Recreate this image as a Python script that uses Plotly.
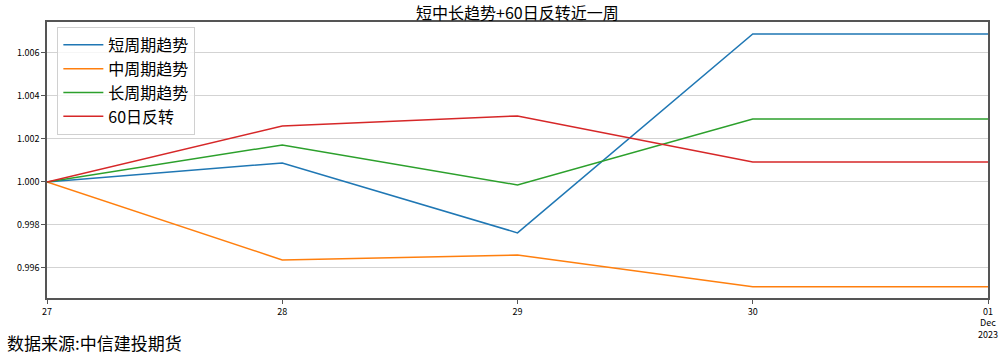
import plotly.graph_objects as go

dates = ["2023-11-27", "2023-11-28", "2023-11-29", "2023-11-30", "2023-12-01"]
short_trend = [1.0000, 1.00088, 0.99763, 1.00688, 1.00688]
mid_trend = [1.0000, 0.99637, 0.99660, 0.99512, 0.99512]
long_trend = [1.0000, 1.00172, 0.99986, 1.00293, 1.00293]
reversal_60 = [1.0000, 1.00260, 1.00307, 1.00093, 1.00093]

series_names = ["短周期趋势", "中周期趋势", "长周期趋势", "60日反转"]
series_vals = [short_trend, mid_trend, long_trend, reversal_60]
colors = ["#1f77b4", "#ff7f0e", "#2ca02c", "#d62728"]

x_tick_text = ["27", "28", "29", "30", "01<br>Dec<br>2023"]
y_ticks = [0.996, 0.998, 1.000, 1.002, 1.004, 1.006]
y_tick_text = ["0.996", "0.998", "1.000", "1.002", "1.004", "1.006"]

font_family = "Noto Sans CJK SC, sans-serif"

fig = go.Figure()
for name, vals, c in zip(series_names, series_vals, colors):
    fig.add_trace(go.Scatter(x=dates, y=vals, mode="lines", name=name,
                             line=dict(color=c, width=1.5)))

fig.update_layout(
    width=1003, height=354,
    margin=dict(l=47, r=15, t=22, b=56, autoexpand=False),
    paper_bgcolor="white", plot_bgcolor="white",
    font=dict(family=font_family, color="black"),
    legend=dict(x=0.011, y=0.982, xanchor="left", yanchor="top",
                bgcolor="rgba(255,255,255,0.8)", bordercolor="#d0d0d0", borderwidth=1,
                font=dict(size=16, family=font_family), tracegroupgap=0,
                itemwidth=40),
    showlegend=True,
)

fig.update_xaxes(type="date", range=["2023-11-27", "2023-12-01"],
                 tickvals=dates, ticktext=x_tick_text, automargin=False,
                 showgrid=False, zeroline=False,
                 showline=True, linecolor="#555555", linewidth=1.5, mirror=True,
                 ticks="outside", ticklen=4, tickcolor="#555555",
                 tickfont=dict(size=9, family=font_family, color="black"))
fig.update_yaxes(range=[0.99460, 1.00744], tickvals=y_ticks, ticktext=y_tick_text,
                 automargin=False,
                 showgrid=True, gridcolor="#d3d3d3", gridwidth=1, zeroline=False,
                 showline=True, linecolor="#555555", linewidth=1.5, mirror=True,
                 ticks="outside", ticklen=4, tickcolor="#555555",
                 tickfont=dict(size=9, family=font_family, color="black"))

fig.add_annotation(text="短中长趋势+60日反转近一周", xref="paper", yref="paper",
                   x=0.5, y=1, xanchor="center", yanchor="middle",
                   yshift=10, showarrow=False,
                   font=dict(size=16, family=font_family, color="black"))

fig.add_annotation(text="数据来源:中信建投期货", xref="paper", yref="paper",
                   x=0, y=0, xanchor="left", yanchor="middle",
                   xshift=-42, yshift=-44, showarrow=False,
                   font=dict(size=17, family=font_family, color="black"))

fig.write_html("out.html")
